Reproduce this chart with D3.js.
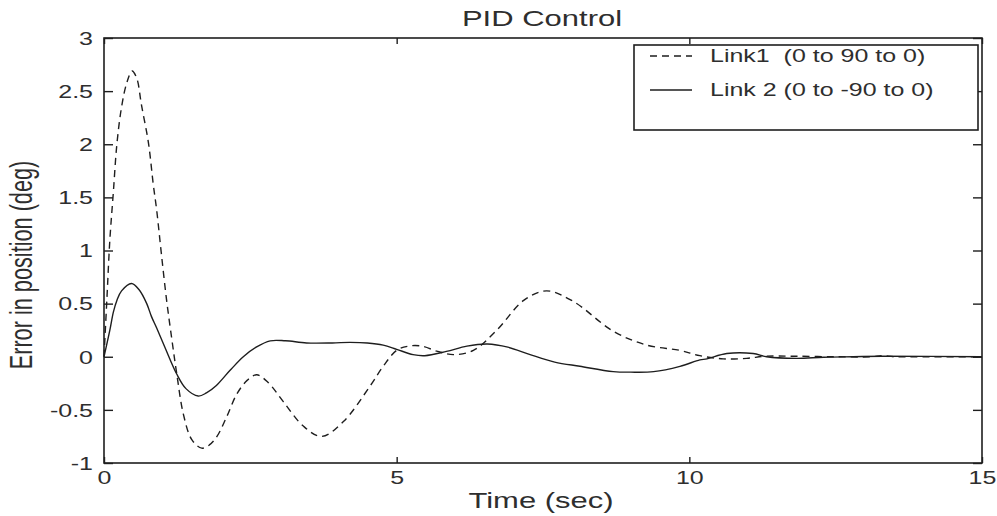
<!DOCTYPE html>
<html>
<head>
<meta charset="utf-8">
<script src="https://cdn.jsdelivr.net/npm/d3@7"></script>
<style>
  html, body { margin: 0; padding: 0; background: #fff; }
  svg { display: block; font-family: "Liberation Sans", Arial, Helvetica, sans-serif; }
</style>
</head>
<body>
<svg id="chart" width="997" height="516"></svg>
<script>
// Step-response error of a two-link arm under PID control
const link1Time = [0, 0.05, 0.10, 0.16, 0.22, 0.30, 0.39, 0.48, 0.56, 0.64, 0.76, 0.84, 0.90, 0.98,
  1.07, 1.16, 1.24, 1.36, 1.50, 1.67, 1.80, 1.93, 2.10, 2.27, 2.45, 2.61, 2.80, 3.06, 3.40, 3.72,
  4.09, 4.54, 4.77, 5.00, 5.20, 5.43, 5.70, 5.97, 6.31, 6.71, 7.17, 7.56, 8.02, 8.70, 9.27, 9.84,
  10.18, 10.58, 10.98, 11.30, 11.80, 12.50, 13.10, 13.30, 13.50, 14.00, 15.00];
const link1Error = [0, 0.55, 1.10, 1.55, 2.00, 2.35, 2.58, 2.69, 2.62, 2.37, 2.01, 1.63, 1.38, 0.97,
  0.53, 0.16, -0.15, -0.55, -0.78, -0.86, -0.83, -0.75, -0.56, -0.35, -0.22, -0.17, -0.24, -0.42, -0.65, -0.75,
  -0.61, -0.28, -0.09, 0.06, 0.10, 0.10, 0.05, 0.02, 0.06, 0.25, 0.53, 0.62, 0.52, 0.24, 0.11, 0.06,
  0.01, -0.02, -0.015, 0.005, 0.005, 0, 0, 0.01, 0, 0, 0];

const link2Time = [0, 0.10, 0.16, 0.22, 0.30, 0.47, 0.60, 0.73, 0.81, 0.90, 1.04, 1.24, 1.40, 1.61,
  1.75, 1.92, 2.15, 2.38, 2.60, 2.84, 3.10, 3.46, 3.90, 4.20, 4.50, 4.77, 5.00, 5.28, 5.48, 5.85,
  6.20, 6.55, 6.90, 7.28, 7.70, 8.13, 8.70, 9.00, 9.39, 9.84, 10.18, 10.30, 10.64, 11.09, 11.32,
  11.83, 12.29, 12.80, 13.30, 15.00];
const link2Error = [0, 0.25, 0.42, 0.53, 0.62, 0.69, 0.63, 0.50, 0.38, 0.27, 0.09, -0.16, -0.30, -0.37,
  -0.34, -0.27, -0.13, 0.0, 0.09, 0.15, 0.15, 0.13, 0.13, 0.135, 0.13, 0.11, 0.07, 0.02, 0.01, 0.05,
  0.10, 0.12, 0.09, 0.02, -0.05, -0.09, -0.14, -0.145, -0.14, -0.09, -0.03, -0.02, 0.03, 0.03, 0.0,
  -0.015, -0.005, 0, 0.005, 0];

const timeTicks = [0, 5, 10, 15];
const timeTickLabels = ["0", "5", "10", "15"];
const errorTicks = [-1, -0.5, 0, 0.5, 1, 1.5, 2, 2.5, 3];
const errorTickLabels = ["-1", "-0.5", "0", "0.5", "1", "1.5", "2", "2.5", "3"];
const seriesNames = ["Link1  (0 to 90 to 0)", "Link 2 (0 to -90 to 0)"];

const INK = "#1e1e1e";
const TEXT_INK = "#2e2e2e";
const SQUASH = 0.7; // text is drawn vertically condensed

const svg = d3.select("#chart");
const plotLeft = 104, plotRight = 982, plotTop = 38, plotBottom = 463;

const x = d3.scaleLinear().domain([0, 15]).range([plotLeft, plotRight]);
const y = d3.scaleLinear().domain([-1, 3]).range([plotBottom, plotTop]);

// Axes with inward ticks on all four sides
const xAxis = d3.axisBottom(x).tickValues(timeTicks)
  .tickFormat((d, i) => timeTickLabels[i]).tickSizeInner(-6).tickSizeOuter(0);
const gx = svg.append("g").attr("transform", `translate(0,${plotBottom})`).call(xAxis);
gx.selectAll("text")
  .attr("y", null).attr("dy", "0.71em")
  .attr("transform", `translate(0,9) scale(1,${SQUASH})`);

const yAxis = d3.axisLeft(y).tickValues(errorTicks)
  .tickFormat((d, i) => errorTickLabels[i]).tickSizeInner(-9).tickSizeOuter(0);
const gy = svg.append("g").attr("transform", `translate(${plotLeft},0)`).call(yAxis);
gy.selectAll("text")
  .attr("x", null).attr("dy", "0.36em")
  .attr("transform", `translate(-11,0) scale(1,${SQUASH})`);

const gt = svg.append("g").attr("transform", `translate(0,${plotTop})`)
  .call(d3.axisTop(x).tickValues(timeTicks).tickFormat("").tickSizeInner(-6).tickSizeOuter(0));
const gr = svg.append("g").attr("transform", `translate(${plotRight},0)`)
  .call(d3.axisRight(y).tickValues(errorTicks).tickFormat("").tickSizeInner(-9).tickSizeOuter(0));

[gx, gy, gt, gr].forEach(g => {
  g.selectAll(".domain").remove();
  g.selectAll(".tick line").attr("stroke", INK).attr("stroke-width", 1.4);
  g.selectAll("text").attr("fill", TEXT_INK).attr("font-size", 25)
    .attr("font-family", "'Liberation Sans', Arial, sans-serif");
});

svg.append("rect")
  .attr("x", plotLeft).attr("y", plotTop)
  .attr("width", plotRight - plotLeft).attr("height", plotBottom - plotTop)
  .attr("fill", "none").attr("stroke", INK).attr("stroke-width", 1.6);

// Error curves
const line = d3.line().x(d => x(d[0])).y(d => y(d[1])).curve(d3.curveCatmullRom.alpha(0.5));
const link1 = link1Time.map((t, i) => [t, link1Error[i]]);
const link2 = link2Time.map((t, i) => [t, link2Error[i]]);

svg.append("path").datum(link2).attr("d", line)
  .attr("fill", "none").attr("stroke", INK).attr("stroke-width", 1.4);
svg.append("path").datum(link1).attr("d", line)
  .attr("fill", "none").attr("stroke", INK).attr("stroke-width", 1.4)
  .attr("stroke-dasharray", "7,5");

// Condensed text helper
function label(txt, px, py, size, anchor, rotate) {
  const g = svg.append("g")
    .attr("transform", `translate(${px},${py}) scale(1,${SQUASH})` + (rotate ? ` rotate(${rotate})` : ""));
  return g.append("text").text(txt)
    .attr("font-size", size).attr("text-anchor", anchor).attr("fill", TEXT_INK);
}

label("PID Control", 542, 26, 31, "middle");
label("Time (sec)", 541, 508, 31, "middle");
label("Error in position (deg)", 32, 265, 31, "middle", -90);

// Legend
const legend = svg.append("g");
legend.append("rect")
  .attr("x", 634).attr("y", 45).attr("width", 344).attr("height", 85)
  .attr("fill", "#fff").attr("stroke", INK).attr("stroke-width", 1.6);
const rows = [56, 90];
legend.append("line").attr("x1", 650).attr("x2", 692).attr("y1", rows[0]).attr("y2", rows[0])
  .attr("stroke", INK).attr("stroke-width", 1.4).attr("stroke-dasharray", "7,5");
legend.append("line").attr("x1", 650).attr("x2", 692).attr("y1", rows[1]).attr("y2", rows[1])
  .attr("stroke", INK).attr("stroke-width", 1.4);
label(seriesNames[0], 710, rows[0], 25, "start").attr("dy", "0.36em").style("white-space", "pre");
label(seriesNames[1], 710, rows[1], 25, "start").attr("dy", "0.36em").style("white-space", "pre");
</script>
</body>
</html>
